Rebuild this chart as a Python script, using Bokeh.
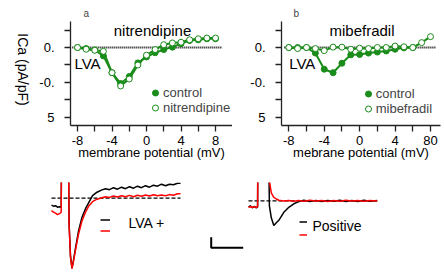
import math
from bokeh.plotting import figure
from bokeh.layouts import column, row
from bokeh.models import FixedTicker, Label, Legend, LegendItem, Range1d
from bokeh.core.properties import value
from bokeh.embed import file_html
from bokeh.resources import INLINE

# ---------------- data: I-V curves ----------------
voltage = [-80, -70, -60, -50, -40, -30, -20, -10, 0, 10, 20, 30, 40, 50, 60, 70, 80]
control_a = [0.00, -0.03, -0.07, -0.24, -0.72, -1.03, -0.83, -0.44, -0.27, -0.15, -0.06, 0.01, 0.11, 0.20, 0.22, 0.25, 0.25]
nitrendipine = [0.00, -0.05, -0.08, -0.11, -0.72, -1.10, -0.90, -0.50, -0.22, -0.06, 0.08, 0.13, 0.15, 0.22, 0.25, 0.27, 0.27]

voltage_b_ctrl = [-80, -70, -60, -50, -40, -30, -20, -10, 0, 10, 20, 30, 40, 50, 60]
control_b = [0.00, 0.00, 0.00, -0.16, -0.62, -0.72, -0.45, -0.21, -0.20, -0.16, -0.13, -0.10, -0.05, -0.01, 0.00]
mibefradil = [0.00, -0.03, 0.00, -0.03, -0.09, 0.01, 0.01, -0.05, -0.02, -0.03, 0.00, 0.00, 0.04, 0.02, 0.00, 0.14, 0.31]

y_ticks = [0.5, 0.0, -0.5, -1.0, -1.5, -2.0]
y_tick_labels = {0.5: "", 0.0: "0.", -0.5: "", -1.0: "-0.", -1.5: "", -2.0: "5"}
x_ticks = [-80, -60, -40, -20, 0, 20, 40, 60, 80]
x_tick_labels_a = {-80: "-8", -60: "", -40: "-4", -20: "", 0: "0", 20: "", 40: "4", 60: "", 80: "8"}
x_tick_labels_b = {-80: "-8", -60: "", -40: "-4", -20: "", 0: "0", 20: "", 40: "4", 60: "", 80: "80"}
zero_a_x = [-86, 88]
zero_b_x = [-85, 86]
zero_y = [0, 0]

# ---------------- data: current traces ----------------
t_lva = [-10, -8, -6, -4, -2, -0.3, 0, 7, 7.6, 9, 10.5, 12, 14, 17, 20.5, 24, 27.5, 31, 35.5, 40.5,
         44, 48, 52, 56, 60, 64, 68, 72, 76, 80, 84, 88, 92, 96, 100, 104, 108, 112, 116, 119]
i_lva_black = [-7, -8, -7.5, -9, -8.5, -9, 40, 40, -25, -58, -70, -62, -50, -33, -19, -10.5, -4, 2.5, 6, 8.3,
               9.5, 8.5, 10.5, 9, 11, 9.5, 11.5, 10, 12, 10.5, 12.5, 11, 13, 12, 14, 12.5, 14, 13.5, 15, 15]
i_lva_red = [-12.5, -14, -15, -16.5, -15.5, -14, 40, 40, -27, -59, -70.5, -63, -52, -36, -22.5, -14, -7.5, -3.5, -1, 0.5,
             1.5, 0.8, 2.2, 1.2, 2.5, 1.5, 2.8, 1.5, 3, 2, 3.2, 2.2, 3.5, 2.5, 3.3, 2.5, 3.6, 3, 4.5, 4.4]
base_lva_t = [-10, 119]

t_pos = [-9.3, -7.5, -5.5, -3.5, -1.5, -0.2, 0, 11, 11.6, 13.5, 16, 18.5, 21, 26, 31, 36, 41, 46, 52, 58,
         64, 70, 76, 82, 88, 94, 100, 106, 112, 119.4]
i_pos_black = [-6, -5, -7, -5.5, -7, -6, 40, 40, -5, -17, -24.7, -22, -19.5, -11.5, -6.5, -3, -0.8, 0.5, -0.6, 0.4,
               -0.7, 0.3, -0.5, 0.6, -0.6, 0.4, -0.7, 0.5, -0.4, 0.3]
i_pos_red = [-6.5, -6, -6.5, -6, -6.5, -6, 40, 40, 20, 8, 3.5, 1.8, 0.6, -0.2, 0.4, -0.5, 0.3, -0.4, 0.5, -0.3,
             0.4, -0.6, 0.3, -0.4, 0.6, -0.3, 0.4, -0.5, 0.3, -0.2]
base_pos_t = [-9.3, 119.4]
base_i = [0, 0]

scale_t = [-46.6, -46.6, -14.6]
scale_i = [-36.4, -47.0, -47.0]

GREEN = "#1a8c1a"
FONT = "Liberation Sans"
AX = "#222222"


def style_iv(p, xlabels):
    p.xaxis.ticker = FixedTicker(ticks=x_ticks)
    p.xaxis.major_label_overrides = xlabels
    p.yaxis.ticker = FixedTicker(ticks=y_ticks)
    p.yaxis.major_label_overrides = y_tick_labels
    for ax in p.axis:
        ax.axis_line_color = AX
        ax.axis_line_width = 1.3
        ax.major_tick_line_color = AX
        ax.major_tick_line_width = 1.3
        ax.major_tick_in = 0
        ax.major_tick_out = 6
        ax.minor_tick_line_color = None
        ax.major_label_text_font = FONT
        ax.major_label_text_font_size = "13px"
        ax.major_label_text_color = "black"
        ax.axis_label_text_font = FONT
        ax.axis_label_text_font_size = "13px"
        ax.axis_label_text_font_style = "normal"
        ax.axis_label_text_color = "black"
    p.xaxis.major_label_standoff = 4
    p.xaxis.axis_label_standoff = -3
    p.yaxis.major_label_standoff = 10
    p.grid.visible = False
    p.outline_line_color = None


def iv_fig(width, mbl, mbr, x0, x1, tag, tag_offset):
    p = figure(width=width, height=170, output_backend="svg", toolbar_location=None,
               x_range=Range1d(x0, x1), y_range=Range1d(-2.229, 0.743),
               min_border_left=mbl, min_border_right=mbr, min_border_top=21, min_border_bottom=45,
               title=tag)
    p.title.text_font = FONT
    p.title.text_font_size = "10px"
    p.title.text_font_style = "normal"
    p.title.align = "left"
    p.title.offset = tag_offset
    p.title.standoff = 6
    p.background_fill_color = None
    p.border_fill_color = None
    return p


def add_text(p, x, y, text, size, align="left", angle=0.0):
    p.add_layout(Label(x=x, y=y, x_units="screen", y_units="screen", text=text,
                       text_font=FONT, text_font_size=size, text_align=align,
                       text_baseline="middle", text_color="black", angle=angle))


# ---------- y-axis title strip ----------
pl = figure(width=30, height=170, output_backend="svg", toolbar_location=None,
            x_range=Range1d(0, 30), y_range=Range1d(0, 170),
            x_axis_location=None, y_axis_location=None,
            min_border_left=0, min_border_right=0, min_border_top=0, min_border_bottom=0)
pl.grid.visible = False
pl.outline_line_color = None
pl.background_fill_color = None
pl.border_fill_color = None
add_text(pl, 22, 56, "ICa (pA/pF)", "14px", "center", -math.pi / 2)

# ---------- panel a ----------
pa = iv_fig(202, 40, 0, -88.12, 99.71, "a", 13)
pa.line(zero_a_x, zero_y, line_color="black", line_width=2, line_dash="1 1")
pa.line(voltage, control_a, line_color=GREEN, line_width=2)
ra1 = pa.scatter(voltage, control_a, size=6, marker="circle", fill_color=GREEN, line_color=GREEN)
pa.line(voltage, nitrendipine, line_color=GREEN, line_width=2)
ra2 = pa.scatter(voltage, nitrendipine, size=6, marker="circle", fill_color="white", line_color=GREEN, line_width=1)
pa.xaxis.axis_label = "membrane potential (mV)"
style_iv(pa, x_tick_labels_a)
leg_a = Legend(items=[LegendItem(label=value("control"), renderers=[ra1]),
                      LegendItem(label=value("nitrendipine"), renderers=[ra2])],
               location=(77, 10.5), orientation="vertical", padding=0, spacing=0, margin=0,
               glyph_width=16, glyph_height=15, label_height=15, label_standoff=0,
               label_text_font=FONT, label_text_font_size="13px",
               border_line_color=None, background_fill_alpha=0)
pa.add_layout(leg_a)
add_text(pa, 82, 95, "nitrendipine", "15px", "center")
add_text(pa, 4, 62.5, "LVA", "15px", "left")

# ---------- panel b ----------
pb = iv_fig(212, 49, 4, -88.24, 91.29, "b", 12)
pb.line(zero_b_x, zero_y, line_color="black", line_width=2, line_dash="1 1")
pb.line(voltage_b_ctrl, control_b, line_color=GREEN, line_width=2)
rb1 = pb.scatter(voltage_b_ctrl, control_b, size=6, marker="circle", fill_color=GREEN, line_color=GREEN)
pb.line(voltage, mibefradil, line_color=GREEN, line_width=2)
rb2 = pb.scatter(voltage, mibefradil, size=6, marker="circle", fill_color="white", line_color=GREEN, line_width=1)
pb.xaxis.axis_label = "mebrane potential (mV)"
style_iv(pb, x_tick_labels_b)
leg_b = Legend(items=[LegendItem(label=value("control"), renderers=[rb1]),
                      LegendItem(label=value("mibefradil"), renderers=[rb2])],
               location=(78.7, 9.5), orientation="vertical", padding=0, spacing=0, margin=0,
               glyph_width=16, glyph_height=15, label_height=15, label_standoff=0,
               label_text_font=FONT, label_text_font_size="13px",
               border_line_color=None, background_fill_alpha=0)
pb.add_layout(leg_b)
add_text(pb, 80.5, 95, "mibefradil", "15px", "center")
add_text(pb, 7.7, 62, "LVA", "15px", "left")


# ---------- traces ----------
def trace_fig(width, x0, x1, y0, y1):
    p = figure(width=width, height=110, output_backend="svg", toolbar_location=None,
               x_range=Range1d(x0, x1), y_range=Range1d(y0, y1),
               x_axis_location=None, y_axis_location=None,
               min_border_left=0, min_border_right=0, min_border_top=12, min_border_bottom=0)
    p.grid.visible = False
    p.outline_line_color = None
    p.background_fill_color = None
    p.border_fill_color = None
    return p


pc = trace_fig(200, -61, 139, -82.3, 15.7)
pc.line(base_lva_t, base_i, line_color="black", line_width=1.2, line_dash="4 2")
rc1 = pc.line(t_lva, i_lva_black, line_color="black", line_width=1.5)
rc2 = pc.line(t_lva, i_lva_red, line_color="red", line_width=1.5)
leg_c = Legend(items=[LegendItem(label=value(" "), renderers=[rc1]),
                      LegendItem(label=value(" "), renderers=[rc2])],
               location=(100, 44.2), orientation="vertical", padding=0, spacing=0, margin=0,
               glyph_width=10, glyph_height=11, label_height=11, label_standoff=0,
               label_text_font_size="6px", border_line_color=None, background_fill_alpha=0)
pc.add_layout(leg_c)
add_text(pc, 128, 58, "LVA +", "14px", "left")

pd = trace_fig(244, -57.3, 186.7, -79.7, 18.3)
pd.line(base_pos_t, base_i, line_color="black", line_width=1.2, line_dash="4 2")
rd1 = pd.line(t_pos, i_pos_black, line_color="black", line_width=1.5)
rd2 = pd.line(t_pos, i_pos_red, line_color="red", line_width=1.5)
pd.line(scale_t, scale_i, line_color="black", line_width=2)
leg_d = Legend(items=[LegendItem(label=value(" "), renderers=[rd1]),
                      LegendItem(label=value(" "), renderers=[rd2])],
               location=(99.3, 39.4), orientation="vertical", padding=0, spacing=0, margin=0,
               glyph_width=8, glyph_height=13, label_height=13, label_standoff=0,
               label_text_font_size="6px", border_line_color=None, background_fill_alpha=0)
pd.add_layout(leg_d)
add_text(pd, 112, 55, "Positive", "14px", "left")

layout = column(row(pl, pa, pb, spacing=0), row(pc, pd, spacing=0), spacing=0)
open("out.html", "w").write(file_html(layout, INLINE))
